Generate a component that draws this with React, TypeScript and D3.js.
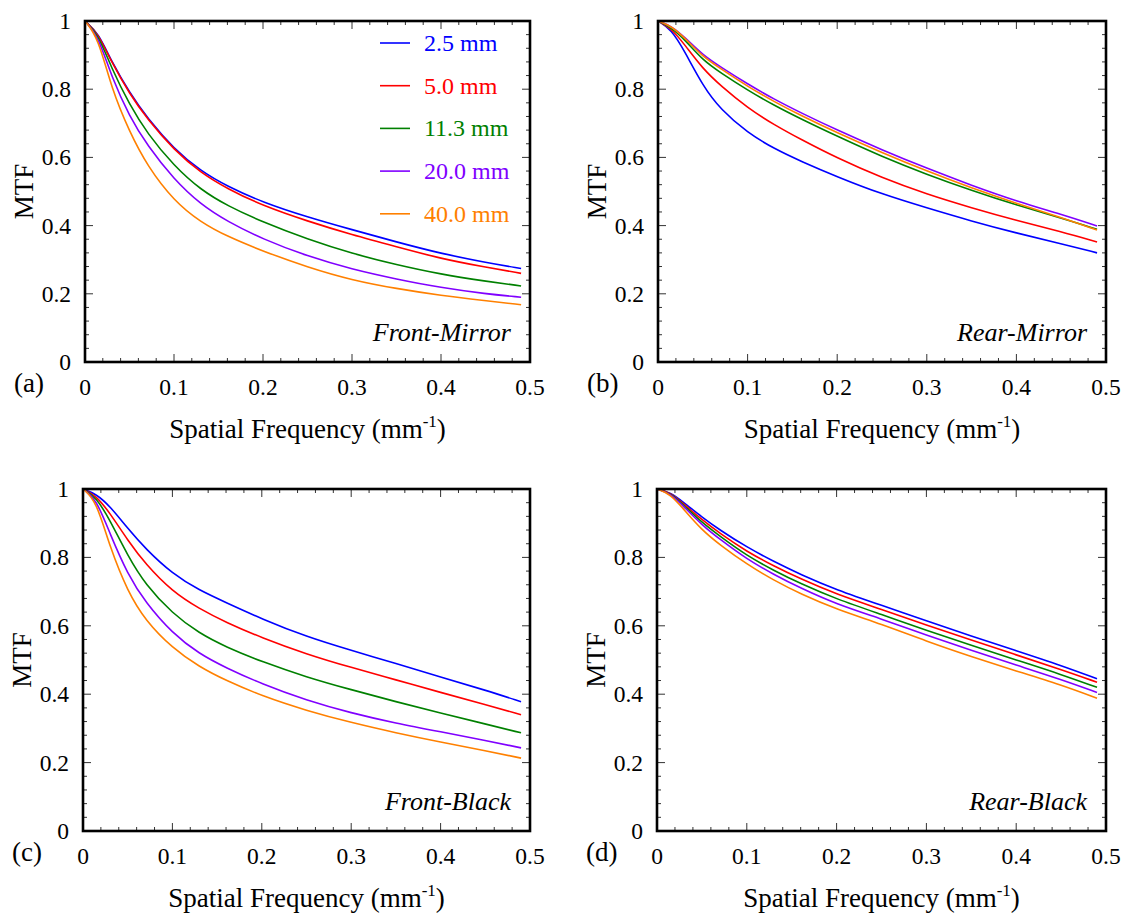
import React from "react";
import * as d3 from "d3";

// ---------- data ----------
const freq = [0, 0.015, 0.03, 0.05, 0.07, 0.1, 0.13, 0.16, 0.2, 0.25, 0.3, 0.35, 0.4, 0.45, 0.49];
const seriesLabels = ["2.5 mm", "5.0 mm", "11.3 mm", "20.0 mm", "40.0 mm"];
const seriesColors = ["#0000ff", "#ff0000", "#008000", "#8000ff", "#ff8000"];
const xTickValues = [0, 0.1, 0.2, 0.3, 0.4, 0.5];
const yTickValues = [0, 0.2, 0.4, 0.6, 0.8, 1];
const panelLetters = ["(a)", "(b)", "(c)", "(d)"];
const panelNames = ["Front-Mirror", "Rear-Mirror", "Front-Black", "Rear-Black"];

const frontMirror = [
  [1, 0.965, 0.88, 0.79, 0.715, 0.625, 0.56, 0.515, 0.468, 0.425, 0.388, 0.352, 0.318, 0.292, 0.274],
  [1, 0.963, 0.878, 0.787, 0.712, 0.622, 0.555, 0.508, 0.458, 0.413, 0.373, 0.338, 0.303, 0.278, 0.26],
  [1, 0.96, 0.86, 0.755, 0.67, 0.575, 0.505, 0.458, 0.41, 0.36, 0.318, 0.285, 0.257, 0.237, 0.223],
  [1, 0.955, 0.835, 0.72, 0.635, 0.535, 0.462, 0.412, 0.36, 0.31, 0.272, 0.243, 0.218, 0.2, 0.19],
  [1, 0.95, 0.8, 0.675, 0.575, 0.472, 0.41, 0.368, 0.325, 0.278, 0.24, 0.215, 0.195, 0.18, 0.168],
];
const rearMirror = [
  [1, 0.975, 0.91, 0.81, 0.74, 0.672, 0.625, 0.588, 0.543, 0.492, 0.452, 0.413, 0.378, 0.347, 0.32],
  [1, 0.978, 0.93, 0.86, 0.81, 0.745, 0.695, 0.652, 0.598, 0.54, 0.492, 0.452, 0.415, 0.382, 0.352],
  [1, 0.98, 0.945, 0.885, 0.848, 0.797, 0.752, 0.712, 0.662, 0.602, 0.55, 0.503, 0.46, 0.422, 0.389],
  [1, 0.985, 0.952, 0.9, 0.865, 0.815, 0.77, 0.73, 0.68, 0.622, 0.568, 0.518, 0.472, 0.433, 0.399],
  [1, 0.985, 0.95, 0.895, 0.86, 0.808, 0.763, 0.722, 0.672, 0.614, 0.56, 0.51, 0.465, 0.424, 0.387],
];
const frontBlack = [
  [1, 0.985, 0.95, 0.885, 0.825, 0.752, 0.704, 0.668, 0.62, 0.568, 0.528, 0.49, 0.45, 0.412, 0.378],
  [1, 0.98, 0.93, 0.85, 0.78, 0.7, 0.65, 0.61, 0.565, 0.517, 0.478, 0.442, 0.405, 0.37, 0.34],
  [1, 0.975, 0.91, 0.805, 0.72, 0.636, 0.578, 0.538, 0.495, 0.45, 0.413, 0.378, 0.345, 0.313, 0.287],
  [1, 0.97, 0.87, 0.75, 0.668, 0.578, 0.518, 0.477, 0.43, 0.382, 0.345, 0.315, 0.29, 0.265, 0.243],
  [1, 0.965, 0.83, 0.7, 0.615, 0.535, 0.48, 0.44, 0.395, 0.352, 0.317, 0.287, 0.26, 0.235, 0.213],
];
const rearBlack = [
  [1, 0.99, 0.96, 0.918, 0.88, 0.83, 0.788, 0.75, 0.705, 0.66, 0.615, 0.57, 0.527, 0.484, 0.445],
  [1, 0.99, 0.955, 0.91, 0.87, 0.817, 0.775, 0.737, 0.692, 0.648, 0.602, 0.558, 0.515, 0.472, 0.435],
  [1, 0.988, 0.952, 0.902, 0.862, 0.805, 0.762, 0.723, 0.678, 0.633, 0.587, 0.543, 0.5, 0.458, 0.42],
  [1, 0.987, 0.948, 0.895, 0.853, 0.795, 0.75, 0.71, 0.663, 0.62, 0.573, 0.528, 0.485, 0.443, 0.405],
  [1, 0.985, 0.94, 0.88, 0.837, 0.78, 0.733, 0.693, 0.648, 0.605, 0.555, 0.51, 0.468, 0.427, 0.388],
];
const panelData = [frontMirror, rearMirror, frontBlack, rearBlack];

// ---------- layout ----------
const layouts = [
  { x0: 85, x1: 530, y0: 21, y1: 362 },
  { x0: 658, x1: 1106, y0: 21, y1: 362 },
  { x0: 83, x1: 530, y0: 489, y1: 831 },
  { x0: 657, x1: 1106, y0: 489, y1: 831 },
];

const FONT = "Liberation Serif, DejaVu Serif";

function fmt(v: number) {
  if (v === 0) return "0";
  if (v === 1) return "1";
  return d3.format(".1f")(v);
}

function Panel({ idx }: { idx: number }) {
  const { x0, x1, y0, y1 } = layouts[idx];
  const x = d3.scaleLinear().domain([0, 0.5]).range([x0, x1]);
  const y = d3.scaleLinear().domain([0, 1]).range([y1, y0]);
  const data = panelData[idx];
  const line = d3
    .line<number>()
    .x((_, i) => x(freq[i]))
    .y((d) => y(d))
    .curve(d3.curveBasis);

  const xMinor = d3.range(0, 0.5001, 0.02).filter((v) => Math.abs(v * 10 - Math.round(v * 10)) > 1e-6);
  const yMinor = d3.range(0, 1.0001, 0.04).filter((v) => Math.abs(v * 5 - Math.round(v * 5)) > 1e-6);
  const major = 8;
  const minor = 4;

  return (
    <g>
      <g stroke="#333" strokeWidth={1}>
        {xTickValues.map((v) => (
          <g key={"xm" + v}>
            <line x1={x(v)} x2={x(v)} y1={y1} y2={y1 - major} />
            <line x1={x(v)} x2={x(v)} y1={y0} y2={y0 + major} />
          </g>
        ))}
        {xMinor.map((v) => (
          <g key={"xn" + v}>
            <line x1={x(v)} x2={x(v)} y1={y1} y2={y1 - minor} />
            <line x1={x(v)} x2={x(v)} y1={y0} y2={y0 + minor} />
          </g>
        ))}
        {yTickValues.map((v) => (
          <g key={"ym" + v}>
            <line x1={x0} x2={x0 + major} y1={y(v)} y2={y(v)} />
            <line x1={x1} x2={x1 - major} y1={y(v)} y2={y(v)} />
          </g>
        ))}
        {yMinor.map((v) => (
          <g key={"yn" + v}>
            <line x1={x0} x2={x0 + minor} y1={y(v)} y2={y(v)} />
            <line x1={x1} x2={x1 - minor} y1={y(v)} y2={y(v)} />
          </g>
        ))}
      </g>
      {data.map((s, i) => (
        <path key={i} d={line(s) || ""} fill="none" stroke={seriesColors[i]} strokeWidth={1.6} />
      ))}
      <rect x={x0} y={y0} width={x1 - x0} height={y1 - y0} fill="none" stroke="#000" strokeWidth={2.6} />
      <g fontFamily={FONT} style={{ fontFamily: FONT }} fill="#000">
        {xTickValues.map((v) => (
          <text key={"xl" + v} x={x(v)} y={y1 + 33} textAnchor="middle" fontSize={23.5}>
            {fmt(v)}
          </text>
        ))}
        {yTickValues.map((v) => (
          <text key={"yl" + v} x={x0 - 14} y={y(v) + 8} textAnchor="end" fontSize={23.5}>
            {fmt(v)}
          </text>
        ))}
        <text x={(x0 + x1) / 2} y={y1 + 76} textAnchor="middle" fontSize={27}>
          Spatial Frequency (mm
          <tspan fontSize={17} dy={-11}>-1</tspan>
          <tspan dy={11}>)</tspan>
        </text>
        <text
          transform={`translate(${x0 - 52},${(y0 + y1) / 2}) rotate(-90)`}
          textAnchor="middle"
          fontSize={27}
        >
          MTF
        </text>
        <text x={x0 - 71} y={y1 + 30} fontSize={27}>
          {panelLetters[idx]}
        </text>
        <text x={x1 - 19} y={y1 - 21} textAnchor="end" fontSize={26} fontStyle="italic">
          {panelNames[idx]}
        </text>
        {idx === 0 &&
          seriesLabels.map((lab, i) => {
            const yy = y0 + 22 + i * 42.7;
            return (
              <g key={lab}>
                <line x1={x0 + 295} x2={x0 + 325} y1={yy} y2={yy} stroke={seriesColors[i]} strokeWidth={1.6} />
                <text x={x0 + 339} y={yy + 8} fontSize={24} fill={seriesColors[i]}>
                  {lab}
                </text>
              </g>
            );
          })}
      </g>
    </g>
  );
}

export default function App() {
  return (
    <svg
      width={1124}
      height={913}
      style={{ position: "absolute", left: 0, top: 0, background: "#fff" }}
    >
      <rect x={0} y={0} width={1124} height={913} fill="#fff" />
      {layouts.map((_, i) => (
        <Panel key={i} idx={i} />
      ))}
    </svg>
  );
}
